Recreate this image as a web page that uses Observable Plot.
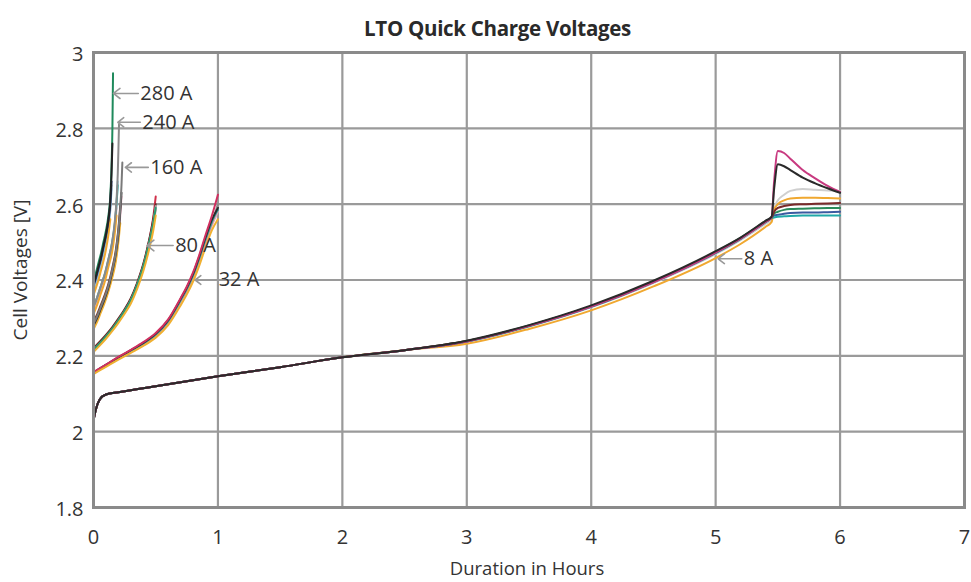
<!DOCTYPE html>
<html>
<head>
<meta charset="utf-8">
<script src="https://cdn.jsdelivr.net/npm/d3@7"></script>
<script src="https://cdn.jsdelivr.net/npm/@observablehq/plot@0.6"></script>
<style>
  body { margin: 0; background: #fff; width: 971px; height: 582px; overflow: hidden; }
  #title { height: 40px; box-sizing: border-box; padding-top: 16px; padding-left: 24px; text-align: center;
           font-family: 'Open Sans', sans-serif; font-weight: 700; font-size: 20.5px; line-height: 24px;
           color: #2a2a2a; letter-spacing: -0.3px; }
  #chart svg { display: block; }
</style>
</head>
<body>
<div id="title">LTO Quick Charge Voltages</div>
<div id="chart"></div>
<script>
// ---- axis ticks ----
const xTicks = [0, 1, 2, 3, 4, 5, 6, 7];
const yTicks = [1.8, 2, 2.2, 2.4, 2.6, 2.8, 3];

// ---- time samples (hours) per charge current ----
const t280 = [0, 0.02, 0.04, 0.06, 0.08, 0.1, 0.12, 0.135, 0.145, 0.152, 0.157];
const t240 = [0, 0.03, 0.06, 0.09, 0.12, 0.15, 0.17, 0.185, 0.195, 0.2, 0.205];
const t160 = [0, 0.03, 0.06, 0.09, 0.12, 0.15, 0.18, 0.2, 0.215, 0.225, 0.232];
const t80  = [0, 0.05, 0.1, 0.15, 0.2, 0.25, 0.3, 0.35, 0.4, 0.45, 0.48, 0.5];
const t32  = [0, 0.1, 0.2, 0.3, 0.4, 0.5, 0.6, 0.7, 0.75, 0.8, 0.85, 0.9, 0.95, 1.0];
const t8   = [0, 0.02, 0.05, 0.1, 0.2, 0.5, 1, 1.5, 2, 2.5, 3, 3.5, 4, 4.5, 5, 5.2, 5.4, 5.45, 5.47, 5.5, 5.55, 5.6, 5.7, 5.8, 5.9, 6];

// ---- cell voltages [V] ----
// 280 A
const v280gray   = [2.375, 2.395, 2.42, 2.445, 2.475, 2.505, 2.545, 2.59, 2.65];
const v280blue   = [2.37, 2.39, 2.415, 2.44, 2.47, 2.50, 2.54, 2.585, 2.64];
const v280orange = [2.36, 2.38, 2.40, 2.425, 2.45, 2.48, 2.52, 2.56];
const v280green  = [2.40, 2.42, 2.445, 2.47, 2.50, 2.53, 2.57, 2.62, 2.70, 2.80, 2.945];
const v280navy   = [2.385, 2.405, 2.43, 2.455, 2.485, 2.515, 2.555, 2.60, 2.66];
const v280black  = [2.39, 2.41, 2.435, 2.46, 2.49, 2.52, 2.56, 2.61, 2.68, 2.76];
// 240 A
const v240blue   = [2.325, 2.35, 2.38, 2.41, 2.45, 2.495, 2.54, 2.60, 2.66];
const v240pink   = [2.32, 2.345, 2.375, 2.405, 2.445, 2.49, 2.535, 2.59];
const v240teal   = [2.33, 2.355, 2.385, 2.415, 2.455, 2.50, 2.545, 2.60, 2.65];
const v240orange = [2.31, 2.335, 2.365, 2.395, 2.435, 2.475, 2.52, 2.57];
const v240gray   = [2.33, 2.355, 2.385, 2.415, 2.455, 2.50, 2.55, 2.61, 2.68, 2.74, 2.81];
// 160 A
const v160pink   = [2.275, 2.295, 2.32, 2.345, 2.375, 2.41, 2.46, 2.51, 2.57, 2.62];
const v160brown  = [2.29, 2.31, 2.335, 2.36, 2.39, 2.43, 2.48, 2.535, 2.595];
const v160orange = [2.27, 2.29, 2.315, 2.34, 2.37, 2.405, 2.45, 2.50, 2.55];
const v160black  = [2.28, 2.30, 2.325, 2.35, 2.38, 2.42, 2.47, 2.52, 2.58, 2.63];
const v160gray   = [2.285, 2.305, 2.33, 2.355, 2.385, 2.425, 2.475, 2.53, 2.59, 2.65, 2.71];
// 80 A
const v80blue   = [2.214, 2.231, 2.249, 2.269, 2.292, 2.317, 2.345, 2.384, 2.432, 2.497, 2.545, 2.59];
const v80pink   = [2.213, 2.23, 2.248, 2.268, 2.291, 2.316, 2.344, 2.383, 2.43, 2.495, 2.54, 2.585];
const v80gray   = [2.215, 2.232, 2.25, 2.27, 2.293, 2.318, 2.346, 2.385, 2.434, 2.50, 2.548, 2.595];
const v80green  = [2.216, 2.233, 2.251, 2.271, 2.294, 2.319, 2.347, 2.387, 2.436, 2.503, 2.55, 2.59];
const v80brown  = [2.22, 2.237, 2.255, 2.275, 2.298, 2.323, 2.352, 2.392, 2.442, 2.51, 2.56, 2.60];
const v80red    = [2.218, 2.235, 2.253, 2.273, 2.296, 2.321, 2.35, 2.39, 2.44, 2.508, 2.565, 2.62];
const v80orange = [2.21, 2.227, 2.245, 2.265, 2.287, 2.311, 2.338, 2.376, 2.423, 2.485, 2.53, 2.57];
// 32 A
const v32blue   = [2.155, 2.175, 2.194, 2.212, 2.231, 2.254, 2.289, 2.343, 2.373, 2.408, 2.452, 2.502, 2.547, 2.59];
const v32pink   = [2.154, 2.174, 2.194, 2.212, 2.23, 2.253, 2.287, 2.341, 2.37, 2.405, 2.449, 2.498, 2.543, 2.58];
const v32gray   = [2.155, 2.175, 2.195, 2.213, 2.232, 2.255, 2.29, 2.345, 2.375, 2.41, 2.455, 2.505, 2.55, 2.60];
const v32teal   = [2.156, 2.176, 2.196, 2.214, 2.233, 2.257, 2.292, 2.347, 2.378, 2.413, 2.458, 2.508, 2.553, 2.585];
const v32black  = [2.156, 2.176, 2.196, 2.215, 2.234, 2.258, 2.294, 2.35, 2.38, 2.416, 2.462, 2.512, 2.558, 2.59];
const v32red    = [2.157, 2.177, 2.197, 2.216, 2.236, 2.26, 2.296, 2.352, 2.383, 2.42, 2.466, 2.518, 2.568, 2.625];
const v32orange = [2.152, 2.171, 2.19, 2.208, 2.226, 2.248, 2.281, 2.333, 2.362, 2.396, 2.438, 2.486, 2.53, 2.56];
// 8 A
const v8light  = [2.03, 2.06, 2.085, 2.098, 2.104, 2.12, 2.146, 2.17, 2.196, 2.215, 2.237, 2.277, 2.328, 2.392, 2.468, 2.505, 2.548, 2.56, 2.59, 2.61, 2.625, 2.635, 2.64, 2.638, 2.636, 2.635];
const v8orange = [2.03, 2.06, 2.085, 2.098, 2.104, 2.12, 2.146, 2.17, 2.196, 2.215, 2.232, 2.271, 2.32, 2.383, 2.458, 2.495, 2.54, 2.553, 2.585, 2.60, 2.61, 2.615, 2.617, 2.617, 2.616, 2.615];
const v8blue   = [2.03, 2.06, 2.085, 2.098, 2.104, 2.12, 2.146, 2.17, 2.196, 2.215, 2.238, 2.279, 2.33, 2.395, 2.472, 2.509, 2.553, 2.564, 2.57, 2.572, 2.575, 2.577, 2.578, 2.578, 2.579, 2.58];
const v8teal   = [2.03, 2.06, 2.085, 2.098, 2.104, 2.12, 2.146, 2.17, 2.196, 2.215, 2.238, 2.278, 2.329, 2.394, 2.471, 2.508, 2.552, 2.563, 2.565, 2.567, 2.568, 2.569, 2.57, 2.57, 2.57, 2.57];
const v8green  = [2.03, 2.06, 2.085, 2.098, 2.104, 2.12, 2.146, 2.17, 2.196, 2.215, 2.239, 2.28, 2.331, 2.396, 2.474, 2.511, 2.555, 2.566, 2.575, 2.58, 2.585, 2.587, 2.588, 2.589, 2.59, 2.59];
const v8brown  = [2.03, 2.06, 2.085, 2.098, 2.104, 2.12, 2.146, 2.17, 2.196, 2.215, 2.239, 2.279, 2.331, 2.396, 2.473, 2.51, 2.554, 2.565, 2.58, 2.59, 2.595, 2.598, 2.60, 2.601, 2.602, 2.603];
const v8pink   = [2.03, 2.06, 2.085, 2.098, 2.104, 2.12, 2.146, 2.17, 2.196, 2.215, 2.238, 2.279, 2.33, 2.394, 2.472, 2.509, 2.553, 2.565, 2.66, 2.74, 2.735, 2.72, 2.69, 2.668, 2.648, 2.632];
const v8black  = [2.03, 2.06, 2.085, 2.098, 2.104, 2.12, 2.146, 2.17, 2.196, 2.215, 2.24, 2.281, 2.333, 2.398, 2.476, 2.512, 2.556, 2.567, 2.64, 2.705, 2.70, 2.69, 2.67, 2.655, 2.642, 2.63];

// ---- annotations ----
const annLabels = ["280 A", "240 A", "160 A", "80 A", "32 A", "8 A"];
const annTipX   = [0.16, 0.195, 0.256, 0.43, 0.817, 5.02];
const annTipY   = [2.892, 2.816, 2.697, 2.491, 2.40, 2.456];
const annTailX  = [0.36, 0.376, 0.44, 0.64, 0.99, 5.21];

// ---- build the table the library needs ----
const cells = [
  ["8A-light", t8, v8light, "#cfcfcf"], ["8A-orange", t8, v8orange, "#f0a830"],
  ["8A-blue", t8, v8blue, "#3a5aa0"], ["8A-teal", t8, v8teal, "#20a8a8"],
  ["8A-green", t8, v8green, "#2a8a5a"], ["8A-brown", t8, v8brown, "#7a2a2a"],
  ["8A-pink", t8, v8pink, "#c83a80"], ["8A-black", t8, v8black, "#2a2a2a"],
  ["32A-blue", t32, v32blue, "#9cc8e4"], ["32A-pink", t32, v32pink, "#e8a4b4"],
  ["32A-gray", t32, v32gray, "#8c8c8c"], ["32A-teal", t32, v32teal, "#30a0a0"],
  ["32A-black", t32, v32black, "#2a2a2a"], ["32A-red", t32, v32red, "#d03060"],
  ["32A-orange", t32, v32orange, "#f0b030"],
  ["80A-red", t80, v80red, "#d0304a"], ["80A-brown", t80, v80brown, "#6a2a2a"],
  ["80A-blue", t80, v80blue, "#a0c8e8"], ["80A-pink", t80, v80pink, "#e8a0b0"],
  ["80A-gray", t80, v80gray, "#a0a0a0"], ["80A-green", t80, v80green, "#2a9a70"],
  ["80A-orange", t80, v80orange, "#f0b030"],
  ["160A-pink", t160, v160pink, "#e0a0b8"], ["160A-brown", t160, v160brown, "#7a3a2a"],
  ["160A-orange", t160, v160orange, "#f0b030"], ["160A-black", t160, v160black, "#333333"],
  ["160A-gray", t160, v160gray, "#7a7a7a"],
  ["240A-blue", t240, v240blue, "#9cc8e0"], ["240A-pink", t240, v240pink, "#e0a0b8"],
  ["240A-teal", t240, v240teal, "#40a8a0"], ["240A-orange", t240, v240orange, "#f0a830"],
  ["240A-gray", t240, v240gray, "#8a8a8a"],
  ["280A-gray", t280, v280gray, "#999999"], ["280A-blue", t280, v280blue, "#8fc0e0"],
  ["280A-orange", t280, v280orange, "#f0a830"], ["280A-green", t280, v280green, "#1f8a5c"],
  ["280A-navy", t280, v280navy, "#2a3a70"], ["280A-black", t280, v280black, "#222222"]
];
const rows = cells.flatMap(([id, t, v, color]) => v.map((val, i) => ({id, t: t[i], v: val, color})));
const ann = annLabels.map((label, i) => ({label, x1: annTailX[i], x2: annTipX[i], y: annTipY[i]}));

const chart = Plot.plot({
  width: 971,
  height: 542,
  marginTop: 12,
  marginBottom: 75,
  marginLeft: 93,
  marginRight: 7,
  style: {fontFamily: "'Open Sans', sans-serif", fontSize: "19px", color: "#333", background: "#fff", overflow: "visible"},
  x: {domain: [0, 7]},
  y: {domain: [1.8, 3]},
  color: {type: "identity"},
  marks: [
    Plot.gridX(xTicks, {stroke: "#9a9a9a", strokeOpacity: 1, strokeWidth: 2.2}),
    Plot.gridY(yTicks, {stroke: "#9a9a9a", strokeOpacity: 1, strokeWidth: 2.2}),
    Plot.line(rows, {x: "t", y: "v", z: "id", stroke: "color", strokeWidth: 2, curve: "monotone-x"}),
    Plot.frame({stroke: "#8a8a8a", strokeWidth: 3}),
    Plot.axisX(xTicks, {label: null, tickSize: 0, tickPadding: 22, fontSize: 20, fill: "#333", tickFormat: d => String(d)}),
    Plot.axisY(yTicks, {label: null, tickSize: 0, tickPadding: 10, fontSize: 20, fill: "#333", dy: 2, tickFormat: d => String(d)}),
    Plot.arrow(ann, {x1: "x1", y1: "y", x2: "x2", y2: "y", stroke: "#999", strokeWidth: 1.6, headLength: 13, headAngle: 75, insetStart: 0, insetEnd: 0}),
    Plot.text(ann, {x: "x1", y: "y", text: "label", textAnchor: "start", dx: 2, fontSize: 20, fill: "#333"}),
    Plot.text(["Duration in Hours"], {frameAnchor: "bottom", lineAnchor: "middle", textAnchor: "middle", dy: 62, dx: -2, text: d => d, fontSize: 18.5, fill: "#333"}),
    Plot.text(["Cell Voltages [V]"], {frameAnchor: "left", lineAnchor: "middle", textAnchor: "middle", rotate: -90, dx: -73, dy: -10, text: d => d, fontSize: 19, fill: "#333"})
  ]
});
document.getElementById("chart").appendChild(chart);
</script>
</body>
</html>
